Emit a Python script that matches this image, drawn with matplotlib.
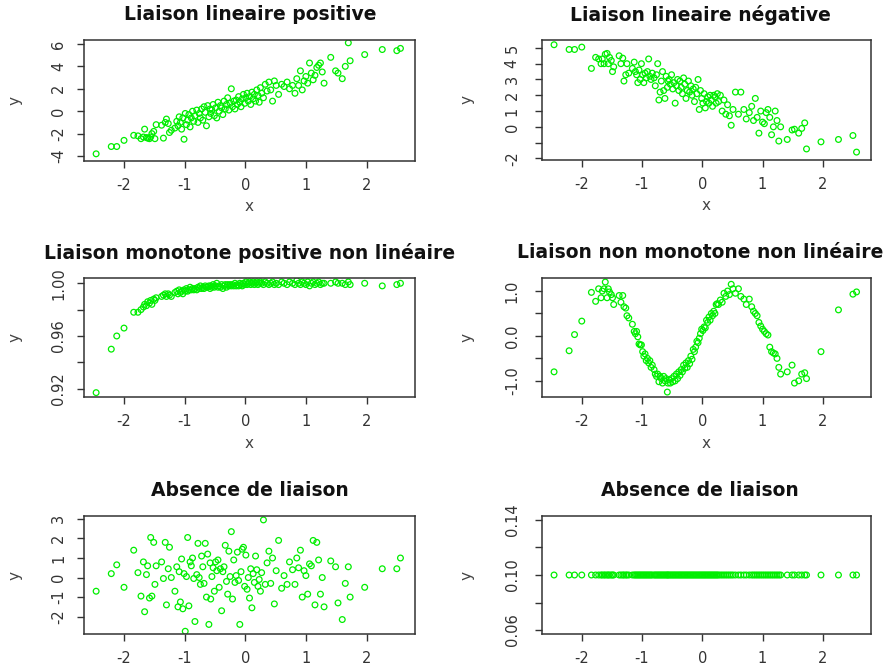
import matplotlib
matplotlib.use("Agg")
import matplotlib.pyplot as plt
from matplotlib.transforms import Bbox, TransformedBbox

W, H = 894, 666

# --- data ---
x = [-2.46, -2.21, -2.12, -2.00, -1.84, -1.77, -1.72, -1.68, -1.66, -1.63,
     -1.61, -1.58, -1.56, -1.54, -1.51, -1.49, -1.47, -1.38, -1.35, -1.32,
     -1.30, -1.27, -1.25, -1.22, -1.16, -1.13, -1.11, -1.09, -1.07, -1.05,
     -1.03, -1.01, -0.99, -0.97, -0.95, -0.93, -0.91, -0.89, -0.87, -0.85,
     -0.83, -0.80, -0.78, -0.76, -0.74, -0.72, -0.70, -0.68, -0.66, -0.64,
     -0.62, -0.60, -0.58, -0.57, -0.55, -0.53, -0.51, -0.49, -0.47, -0.45,
     -0.43, -0.41, -0.39, -0.37, -0.35, -0.33, -0.31, -0.29, -0.27, -0.25,
     -0.23, -0.21, -0.19, -0.17, -0.15, -0.13, -0.11, -0.09, -0.07, -0.05,
     -0.03, -0.01, 0.01, 0.03, 0.05, 0.07, 0.09, 0.11, 0.13, 0.15,
     0.17, 0.19, 0.21, 0.23, 0.25, 0.27, 0.30, 0.33, 0.36, 0.39,
     0.42, 0.45, 0.48, 0.51, 0.55, 0.60, 0.64, 0.69, 0.73, 0.78,
     0.82, 0.85, 0.88, 0.91, 0.94, 0.97, 1.00, 1.03, 1.06, 1.09,
     1.12, 1.15, 1.18, 1.21, 1.24, 1.27, 1.30, 1.41, 1.49, 1.53,
     1.60, 1.65, 1.70, 1.73, 1.97, 2.26, 2.50, 2.56]

y_lin_pos = [-3.8, -3.15, -3.15, -2.6, -2.15, -2.2, -2.45, -2.3, -1.6, -2.35,
             -2.4, -2.45, -2.3, -2.0, -1.8, -2.45, -1.2, -1.25, -2.4, -1.0,
             -0.7, -1.1, -1.9, -1.7, -1.5, -0.9, -1.3, -0.5, -1.0, -1.6,
             -0.6, -2.5, -0.2, -1.2, -0.8, -0.3, -1.4, -0.6, 0.0, -0.9,
             -0.4, 0.1, -1.0, -0.2, -0.6, 0.2, -0.8, 0.4, -0.1, -1.3,
             0.5, -0.5, 0.2, -0.2, 0.1, 0.6, -0.4, 0.3, -0.6, 0.8,
             0.0, 0.5, 0.3, -0.3, 0.9, 0.2, 0.6, 1.2, 0.1, 0.7,
             2.0, 0.4, 0.9, 0.2, 1.0, 0.6, 1.3, 0.8, 0.4, 1.1,
             1.5, 0.7, 1.2, 1.6, 0.9, 1.3, 0.6, 1.7, 1.1, 1.5,
             0.9, 1.9, 1.4, 0.8, 2.1, 1.6, 1.2, 2.4, 1.8, 2.6,
             1.9, 0.9, 2.7, 2.3, 1.5, 2.4, 2.2, 2.6, 2.0, 2.3,
             1.6, 2.9, 2.3, 3.6, 1.9, 2.7, 3.1, 2.5, 4.3, 3.4,
             2.8, 3.2, 3.9, 4.1, 4.3, 3.5, 2.5, 4.8, 3.6, 3.4,
             2.9, 4.0, 6.1, 4.5, 5.05, 5.5, 5.4, 5.6]

y_lin_neg = [5.2, 4.9, 4.9, 5.05, 3.7, 4.4, 4.3, 4.0, 4.3, 4.0,
             4.6, 4.65, 4.0, 4.4, 4.2, 3.5, 3.8, 4.5, 4.0, 4.35,
             2.9, 3.3, 4.0, 3.4, 3.7, 4.1, 3.5, 3.3, 2.8, 3.6,
             3.0, 4.0, 3.3, 2.8, 3.4, 3.1, 3.5, 4.3, 3.2, 3.0,
             3.4, 3.1, 2.6, 3.3, 4.0, 1.7, 2.2, 2.9, 3.5, 2.3,
             1.8, 3.2, 2.5, 2.9, 3.0, 2.7, 3.3, 2.4, 2.8, 1.5,
             2.6, 3.0, 2.3, 2.9, 2.5, 2.1, 3.1, 2.7, 1.8, 2.3,
             2.9, 2.2, 2.6, 2.0, 2.4, 1.6, 2.5, 2.1, 3.0, 1.1,
             2.3, 1.8, 1.5, 2.1, 1.2, 1.6, 1.9, 1.5, 2.0, 1.7,
             1.3, 2.0, 1.9, 1.5, 2.1, 1.6, 2.0, 1.0, 1.7, 0.8,
             1.4, 0.7, 0.1, 1.1, 2.2, 0.8, 2.2, 1.1, 0.5, 0.9,
             1.3, 0.4, 1.8, 0.6, -0.4, 1.0, 0.3, 0.2, 0.9, 1.1,
             0.6, -0.5, 0.0, 1.0, 0.4, -0.9, 0.0, -0.8, -0.2, -0.15,
             -0.4, -0.1, 0.25, -1.4, -0.95, -0.8, -0.55, -1.6]

y_mono = [0.917, 0.950, 0.960, 0.966, 0.978, 0.978, 0.980, 0.982, 0.984, 0.983,
          0.986, 0.985, 0.987, 0.984, 0.988, 0.987, 0.989, 0.990, 0.991, 0.992,
          0.990, 0.992, 0.991, 0.990, 0.993, 0.994, 0.992, 0.995, 0.993, 0.994,
          0.992, 0.995, 0.994, 0.996, 0.994, 0.995, 0.997, 0.995, 0.996, 0.995,
          0.996, 0.995, 0.997, 0.996, 0.998, 0.996, 0.997, 0.996, 0.998, 0.997,
          0.997, 0.998, 0.996, 0.998, 0.997, 0.999, 0.997, 0.998, 1.000, 0.997,
          0.998, 0.997, 0.999, 0.996, 0.998, 0.999, 0.997, 0.999, 0.998, 0.999,
          0.998, 0.999, 0.998, 1.000, 0.998, 0.999, 0.998, 1.000, 0.999, 0.998,
          1.000, 0.999, 1.001, 0.999, 1.000, 1.001, 0.999, 1.000, 1.001, 0.999,
          1.000, 1.001, 0.999, 1.000, 1.001, 1.000, 0.999, 1.001, 1.000, 0.999,
          1.000, 1.001, 0.999, 1.000, 0.999, 1.001, 1.000, 0.999, 1.001, 1.000,
          0.999, 1.002, 1.000, 0.999, 1.001, 1.000, 0.999, 1.001, 0.998, 1.000,
          1.001, 0.999, 1.000, 1.001, 0.999, 1.000, 1.000, 1.000, 1.001, 1.000,
          1.000, 0.999, 1.001, 0.999, 1.000, 0.998, 0.999, 1.000]

y_wave = [-0.8, -0.33, 0.03, 0.33, 0.97, 0.77, 1.05, 0.85, 1.0, 1.05,
          1.2, 0.85, 1.05, 0.98, 0.92, 0.85, 0.7, 0.9, 0.75, 0.9,
          0.65, 0.62, 0.45, 0.40, 0.26, 0.1, 0.05, 0.1, -0.02, -0.18,
          -0.2, -0.2, -0.35, -0.45, -0.4, -0.55, -0.5, -0.6, -0.55, -0.7,
          -0.65, -0.75, -0.85, -0.9, -0.85, -1.02, -0.9, -0.95, -1.05, -0.9,
          -1.0, -0.95, -1.25, -1.05, -0.98, -1.05, -0.95, -1.02, -0.9, -1.0,
          -0.85, -0.95, -0.8, -0.88, -0.75, -0.8, -0.65, -0.72, -0.6, -0.7,
          -0.55, -0.62, -0.45, -0.52, -0.3, -0.35, -0.25, -0.12, -0.15, -0.05,
          0.05, 0.15, 0.12, 0.2, 0.18, 0.35, 0.3, 0.42, 0.35, 0.5,
          0.45, 0.55, 0.5, 0.7, 0.72, 0.7, 0.8, 0.75, 0.95, 0.88,
          1.0, 0.92, 1.15, 1.05, 0.95, 1.05, 0.88, 0.82, 0.7, 0.82,
          0.65, 0.55, 0.5, 0.45, 0.3, 0.22, 0.15, 0.1, 0.05, 0.02,
          -0.25, -0.35, -0.38, -0.4, -0.5, -0.7, -0.85, -0.8, -0.65, -1.05,
          -1.0, -0.85, -0.82, -0.95, -0.35, 0.58, 0.93, 0.98]

y_none = [-0.7, 0.2, 0.65, -0.5, 1.4, 0.25, -0.95, 0.8, -1.75, 0.15,
          0.6, -1.05, 2.05, -0.95, 1.8, -0.35, 0.6, 0.8, -0.05, 1.8,
          -1.4, 0.45, 1.55, 0.0, -0.7, 0.55, -1.5, 0.3, -1.25, 0.95,
          -1.6, 0.2, -2.75, 0.05, 2.05, -1.45, 0.8, 0.6, 1.0, -0.05,
          -2.25, 0.15, 1.75, 0.0, -0.35, 1.1, 0.55, -0.3, 1.75, -1.0,
          1.2, -2.4, 0.75, -1.1, 0.05, 0.5, -0.7, 0.8, 0.35, 0.9,
          -0.5, 0.45, -1.7, 0.3, 0.55, 1.65, -0.2, -0.85, 1.35, 0.05,
          2.35, -1.1, 0.9, -0.25, 0.1, 1.3, -0.15, -2.4, 0.3, 1.45,
          1.55, -0.45, 1.15, -0.6, 0.0, -1.05, 0.45, -1.55, 0.2, -0.25,
          1.1, 0.4, -0.45, -0.1, -0.7, 0.25, 2.95, -0.35, 0.75, 1.35,
          -0.3, 1.0, -1.35, 0.35, 1.9, -0.55, 0.1, -0.35, 0.8, 0.4,
          -0.35, 1.0, 0.5, 1.4, -1.0, 0.35, 0.1, -0.85, 0.7, 0.6,
          1.9, -1.4, 1.8, 0.9, -0.85, 0.0, -1.5, 0.85, 0.55, -1.3,
          -2.15, -0.3, 0.55, -1.0, -0.5, 0.45, 0.45, 1.0]

y_const = [0.10] * len(x)

titles = ["Liaison lineaire positive", "Liaison lineaire négative",
          "Liaison monotone positive non linéaire", "Liaison non monotone non linéaire",
          "Absence de liaison", "Absence de liaison"]
series = [y_lin_pos, y_lin_neg, y_mono, y_wave, y_none, y_const]

xticks = [-2, -1, 0, 1, 2]
yticks = [[-4, -2, 0, 2, 4, 6],
          [-2, -1, 0, 1, 2, 3, 4, 5],
          [0.92, 0.94, 0.96, 0.98, 1.00],
          [-1.0, -0.5, 0.0, 0.5, 1.0],
          [-2, -1, 0, 1, 2, 3],
          [0.06, 0.08, 0.10, 0.12, 0.14]]
ylabels = [["-4", "-2", "0", "2", "4", "6"],
           ["-2", "", "0", "1", "2", "3", "4", "5"],
           ["0.92", "", "0.96", "", "1.00"],
           ["-1.0", "", "0.0", "", "1.0"],
           ["-2", "-1", "0", "1", "2", "3"],
           ["0.06", "", "0.10", "", "0.14"]]
ylims = [(-4.44, 6.35), (-2.1, 5.5), (0.9137, 1.004), (-1.36, 1.29), (-2.89, 3.15), (0.0571, 0.1429)]

# pixel boxes (left, top, right, bottom)
boxes = [(84, 40, 415, 161), (542, 40, 871, 160),
         (84, 278, 415, 397), (542, 278, 871, 397),
         (84, 516, 415, 634), (542, 516, 871, 634)]
title_y = [15, 15, 253, 253, 491, 491]
title_x = [250, 700, 250, 700, 250, 700]

fig = plt.figure(figsize=(W / 100, H / 100), dpi=100)
fig.patch.set_facecolor("white")

for i in range(6):
    l, t, r, b = boxes[i]
    ax = fig.add_axes([l / W, 1 - b / H, (r - l) / W, (b - t) / H])
    ax.scatter(x, series[i], s=17, facecolors="none", edgecolors="#00ee00", linewidths=0.9)
    ax.set_xlim(-2.66, 2.80)
    ax.set_ylim(*ylims[i])
    ax.set_xticks(xticks, [str(v) for v in xticks])
    ax.set_yticks(yticks[i], ylabels[i])
    for sp in ax.spines.values():
        sp.set_color("#333333")
        sp.set_linewidth(1.1)
    ax.tick_params(axis="both", direction="out", length=5, width=1, color="#333333",
                   labelsize=10.5, labelcolor="#333333")
    ax.tick_params(axis="x", pad=7)
    ax.tick_params(axis="y", pad=8 if i % 2 == 0 else 11, labelrotation=90)
    for lab in ax.get_yticklabels():
        lab.set_va("center")

    cx = (l + r) / 2
    txt = fig.text(title_x[i] / W, 1 - title_y[i] / H, titles[i], ha="center", va="center",
                   fontsize=13.5, fontweight="bold", color="#111111")
    if i == 2:
        # title runs past its panel and is cut off, as in the original
        txt.set_clip_box(TransformedBbox(Bbox.from_extents(0, 0, 458 / W, 1), fig.transFigure))
        txt.set_clip_on(True)

    # axis labels
    ylx = 15 if i % 2 == 0 else 467
    fig.text(ylx / W, 1 - (t + b) / 2 / H, "y", rotation=90, ha="center", va="center",
             fontsize=11, color="#444444")
    if i < 4:
        fig.text(cx / W, 1 - (b + 46) / H, "x", ha="center", va="center",
                 fontsize=11, color="#444444")

fig.savefig("out.png", dpi=100)
